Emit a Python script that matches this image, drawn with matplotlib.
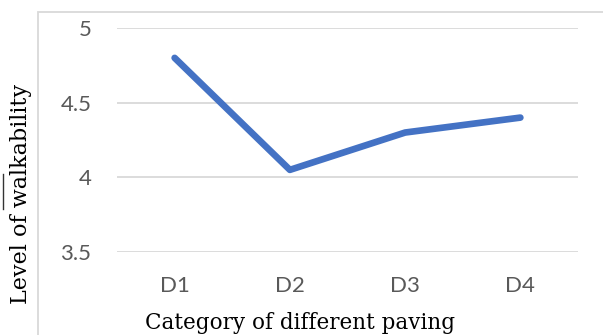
import matplotlib
matplotlib.use("Agg")
import matplotlib.pyplot as plt
from matplotlib.patches import Rectangle
from matplotlib.lines import Line2D

categories = ["D1", "D2", "D3", "D4"]
walkability = [4.8, 4.05, 4.3, 4.4]
yticks = [3.5, 4, 4.5, 5]

W, H = 603, 335
fig = plt.figure(figsize=(W / 100, H / 100), dpi=100)
fig.patch.set_facecolor("white")

# plot area in pixels: x 117..578, y 28..252
ax = fig.add_axes([117 / W, 1 - 252 / H, (578 - 117) / W, (252 - 28) / H])
x = range(len(categories))
ax.plot(x, walkability, color="#4472C4", lw=4.8, solid_capstyle="round",
        solid_joinstyle="round", zorder=3)
ax.set_xlim(-0.5, len(categories) - 0.5)
ax.set_ylim(3.5, 5)
ax.set_yticks(yticks)
ax.set_yticklabels([f"{v:g}" for v in yticks])
ax.set_xticks(list(x))
ax.set_xticklabels(categories)
ax.grid(axis="y", color="#D9D9D9", lw=1.3)
ax.set_axisbelow(True)
for s in ax.spines.values():
    s.set_visible(False)
ax.tick_params(length=0, labelsize=16, colors="#595959", labelfontfamily="Lato")
ax.tick_params(axis="y", pad=18.5)
ax.tick_params(axis="x", pad=17)

fig.text(300 / W, 1 - 329 / H, "Category of different paving", ha="center",
         va="baseline", family="DejaVu Serif", fontsize=15.5)
fig.text(21 / W, 1 - 194 / H, "Level of walkability", rotation=90,
         ha="center", va="center", family="DejaVu Serif", fontsize=16)

# chart frame
fig.add_artist(Rectangle((38 / W, -0.2), 1.0, 1 - 12 / H + 0.2,
                         transform=fig.transFigure, fill=False,
                         edgecolor="#D9D9D9", lw=1.3))
# overline above "wa"
fig.add_artist(Line2D([3 / W, 3 / W], [1 - 209 / H, 1 - 174 / H],
                      transform=fig.transFigure, color="#333333", lw=1.0))

fig.savefig("out.png", dpi=100)
